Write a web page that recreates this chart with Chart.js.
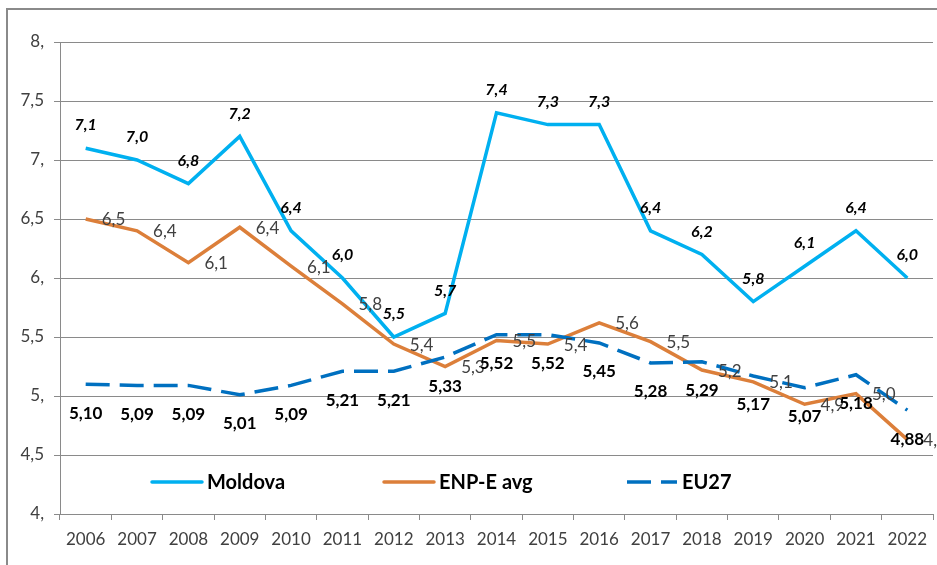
<!DOCTYPE html>
<html>
<head>
<meta charset="utf-8">
<script src="https://cdn.jsdelivr.net/npm/chart.js"></script>
<style>
  html, body { margin: 0; padding: 0; background: #fff; }
  #wrap { width: 937px; height: 565px; position: relative; }
</style>
</head>
<body>
<div id="wrap"><canvas id="chart"></canvas></div>
<script>
const years = ['2006', '2007', '2008', '2009', '2010', '2011', '2012', '2013', '2014',
               '2015', '2016', '2017', '2018', '2019', '2020', '2021', '2022'];
const moldova = [7.1, 7.0, 6.8, 7.2, 6.4, 6.0, 5.5, 5.7, 7.4, 7.3, 7.3, 6.4, 6.2, 5.8, 6.1, 6.4, 6.0];
const enpAvg = [6.5, 6.4, 6.13, 6.43, 6.1, 5.78, 5.44, 5.25, 5.47, 5.44, 5.62, 5.46, 5.22, 5.12, 4.93, 5.02, 4.63];
const eu27 = [5.10, 5.09, 5.09, 5.01, 5.09, 5.21, 5.21, 5.33, 5.52, 5.52, 5.45, 5.28, 5.29, 5.17, 5.07, 5.18, 4.88];
const yTicks = [4, 4.5, 5, 5.5, 6, 6.5, 7, 7.5, 8];

const FONT = 'Lato, "Liberation Sans", sans-serif';
const comma = (v, d) => v.toFixed(d).replace('.', ',');

// excel style axis labels: "8," "7,5"
function yLabel(v) {
    if (Number.isInteger(v)) return v + ',';
    return String(v).replace('.', ',');
}

const frame = {
    id: 'frame',
    beforeDraw(chart) {
        const c = chart.ctx;
        c.save();
        c.fillStyle = '#fff';
        c.fillRect(0, 0, chart.width, chart.height);
        c.strokeStyle = '#8a8a8a';
        c.lineWidth = 2;
        c.strokeRect(7, 9, 1000, 1000);
        c.restore();
    }
};

const valueLabels = {
    id: 'valueLabels',
    afterDatasetsDraw(chart) {
        const c = chart.ctx;
        c.save();
        chart.data.datasets.forEach((ds, i) => {
            const meta = chart.getDatasetMeta(i);
            meta.data.forEach((pt, j) => {
                const v = ds.data[j];
                if (ds.label === 'Moldova') {
                    c.font = 'italic bold 16px ' + FONT;
                    c.fillStyle = '#000';
                    c.textAlign = 'center';
                    c.textBaseline = 'middle';
                    c.fillText(comma(v, 1), pt.x, pt.y - 23);
                } else if (ds.label === 'ENP-E avg') {
                    c.font = '17px ' + FONT;
                    c.fillStyle = '#404040';
                    c.textAlign = 'left';
                    c.textBaseline = 'middle';
                    c.fillText(comma(v, 1), pt.x + 16, pt.y + 1);
                } else {
                    c.font = 'bold 17px ' + FONT;
                    c.fillStyle = '#000';
                    c.textAlign = 'center';
                    c.textBaseline = 'middle';
                    c.fillText(comma(v, 2), pt.x, pt.y + 29);
                }
            });
        });
        c.restore();
    }
};

// legend sits inside the plot area like in the excel original
const innerLegend = {
    id: 'innerLegend',
    afterDraw(chart) {
        const c = chart.ctx;
        const items = [
            { ds: 0, x: 152 },
            { ds: 1, x: 384 },
            { ds: 2, x: 627 }
        ];
        const y = 482;
        c.save();
        items.forEach(it => {
            const ds = chart.data.datasets[it.ds];
            c.strokeStyle = ds.borderColor;
            c.lineWidth = 3.5;
            c.lineCap = ds.borderDash ? 'butt' : 'round';
            c.setLineDash(ds.borderDash || []);
            c.beginPath();
            c.moveTo(it.x, y);
            c.lineTo(it.x + 50, y);
            c.stroke();
            c.setLineDash([]);
            c.font = 'bold 20px ' + FONT;
            c.fillStyle = '#000';
            c.textAlign = 'left';
            c.textBaseline = 'middle';
            c.fillText(ds.label, it.x + 55, y + 1);
        });
        c.restore();
    }
};

new Chart(document.getElementById('chart'), {
    type: 'line',
    data: {
        labels: years,
        datasets: [
            {
                label: 'Moldova',
                data: moldova,
                borderColor: '#00B0F0',
                borderWidth: 3.5,
                pointRadius: 0,
                tension: 0,
                order: 1
            },
            {
                label: 'ENP-E avg',
                data: enpAvg,
                borderColor: '#DC7F3A',
                borderWidth: 3.5,
                pointRadius: 0,
                tension: 0,
                order: 3
            },
            {
                label: 'EU27',
                data: eu27,
                borderColor: '#0070C0',
                borderWidth: 3.5,
                borderDash: [24, 10],
                pointRadius: 0,
                tension: 0,
                order: 2
            }
        ]
    },
    options: {
        responsive: true,
        maintainAspectRatio: false,
        animation: false,
        layout: { padding: { left: 0, top: 42, right: 4, bottom: 0 } },
        plugins: {
            legend: { display: false },
            tooltip: { enabled: false }
        },
        scales: {
            x: {
                offset: true,
                grid: {
                    offset: true,
                    drawOnChartArea: false,
                    drawTicks: true,
                    tickLength: 6,
                    color: '#8a8a8a'
                },
                border: { display: true, color: '#8a8a8a' },
                ticks: {
                    color: '#404040',
                    font: { family: FONT, size: 17 },
                    padding: 9,
                    maxRotation: 0,
                    autoSkip: false
                },
                afterFit(s) { s.height = 51; }
            },
            y: {
                min: 4,
                max: 8,
                afterBuildTicks(s) { s.ticks = yTicks.map(v => ({ value: v })); },
                grid: {
                    color: '#8a8a8a',
                    tickLength: 6
                },
                border: { display: true, color: '#8a8a8a' },
                ticks: {
                    color: '#404040',
                    font: { family: FONT, size: 17 },
                    padding: 10,
                    callback: v => yLabel(v)
                },
                afterFit(s) { s.width = 60; }
            }
        }
    },
    plugins: [frame, valueLabels, innerLegend]
});
</script>
</body>
</html>
